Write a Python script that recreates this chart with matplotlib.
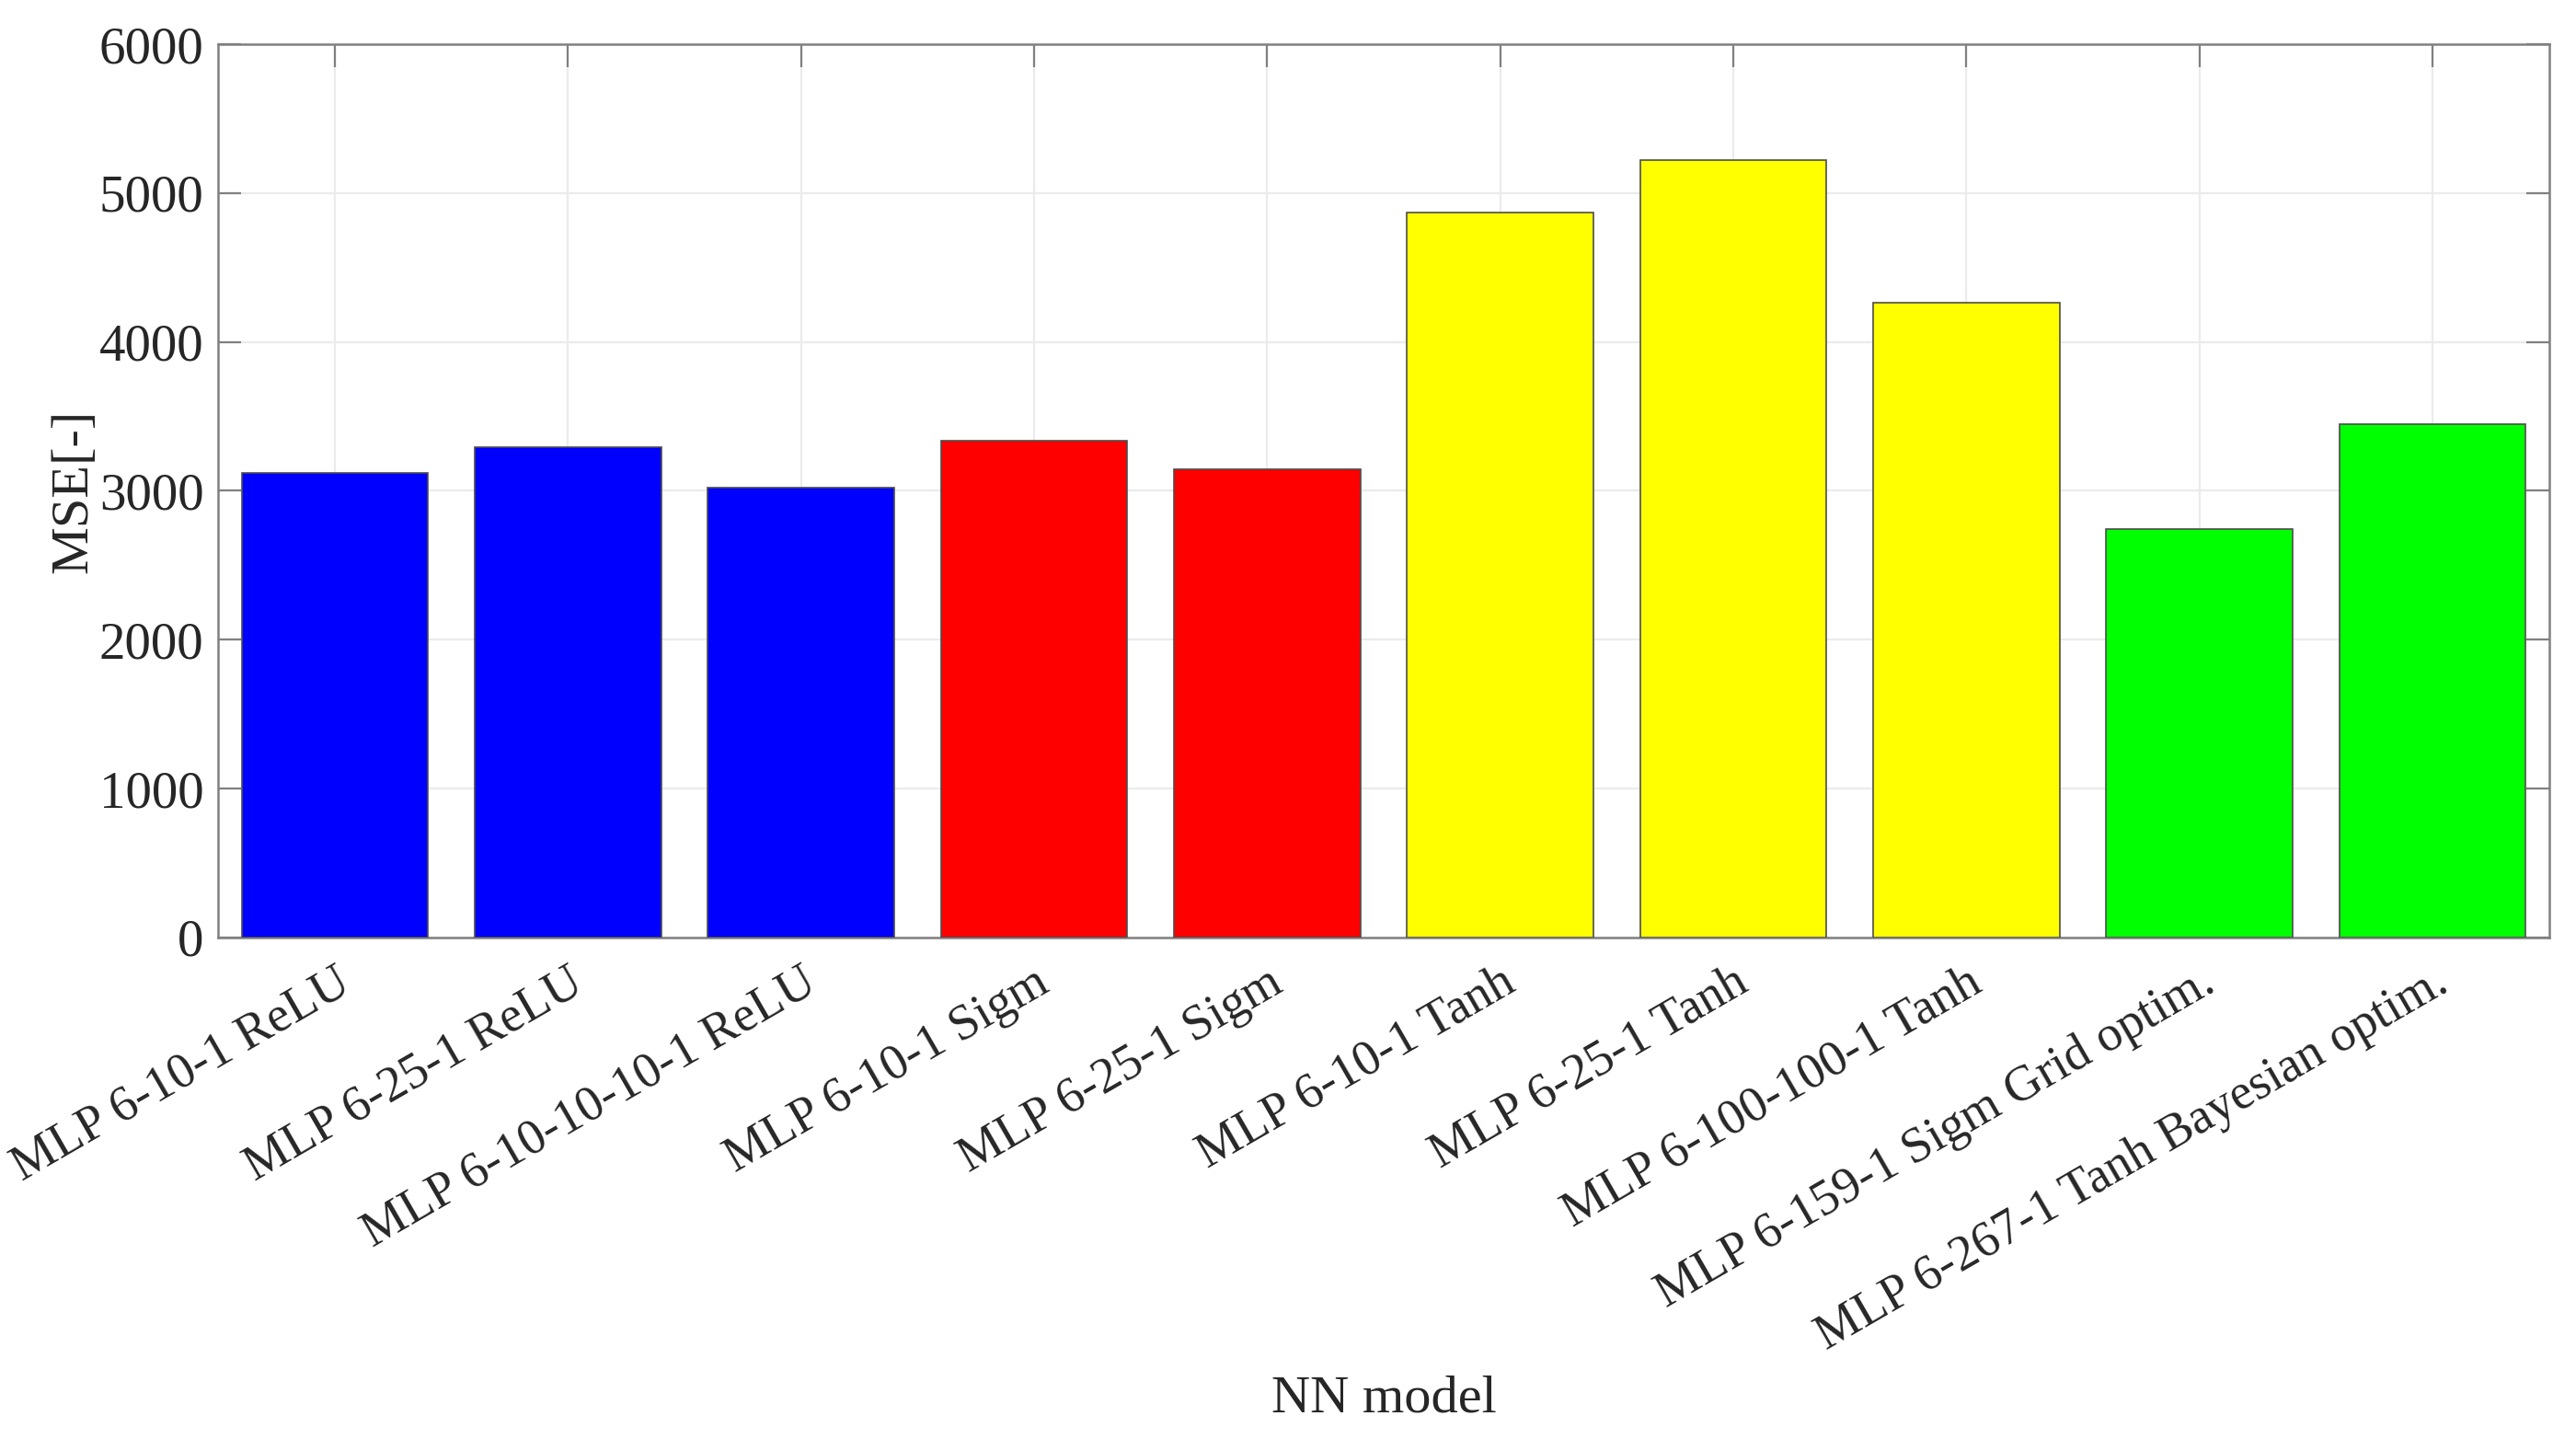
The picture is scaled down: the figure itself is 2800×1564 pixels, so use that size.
import matplotlib
matplotlib.use('Agg')
import matplotlib.pyplot as plt

# MSE of each network
models = ['MLP 6-10-1 ReLU', 'MLP 6-25-1 ReLU', 'MLP 6-10-10-10-1 ReLU',
          'MLP 6-10-1 Sigm', 'MLP 6-25-1 Sigm',
          'MLP 6-10-1 Tanh', 'MLP 6-25-1 Tanh', 'MLP 6-100-100-1 Tanh',
          'MLP 6-159-1 Sigm Grid optim.', 'MLP 6-267-1 Tanh Bayesian optim.']
mse = [3118, 3292, 3019, 3337, 3147, 4870, 5222, 4265, 2745, 3445]
colors = ['#0000ff', '#0000ff', '#0000ff', '#ff0000', '#ff0000',
          '#ffff00', '#ffff00', '#ffff00', '#00ff00', '#00ff00']
yticks = [0, 1000, 2000, 3000, 4000, 5000, 6000]

plt.rcParams['font.family'] = ['Liberation Serif', 'DejaVu Serif']

fig = plt.figure(figsize=(14, 7.82), dpi=200)
ax = fig.add_axes([0.0848, 0.3485, 0.9047, 0.6208])

x = list(range(1, len(models) + 1))
ax.bar(x, mse, width=0.8, color=colors, edgecolor='#4d4d4d', linewidth=0.6, zorder=3)

ax.set_xlim(0.5, len(models) + 0.5)
ax.set_ylim(0, 6000)
ax.set_yticks(yticks)
ax.set_xticks(x)
ax.set_xticklabels(models, rotation=30, ha='right', va='top',
                   rotation_mode='anchor', fontsize=19.6)

ax.grid(True, color='#ebebeb', linewidth=0.8, zorder=0)
ax.tick_params(direction='in', length=9, width=0.8, color='#808080',
               top=True, right=True, labelcolor='#262626', pad=5.8)
ax.tick_params(axis='y', labelsize=20.5)
ax.tick_params(axis='x', pad=8.5)
for s in ax.spines.values():
    s.set_color('#808080')
    s.set_linewidth(0.9)

ax.set_ylabel('MSE[-]', fontsize=21, color='#262626', va='center')
ax.yaxis.set_label_coords(-0.062, 0.5)
ax.set_xlabel('NN model', fontsize=21, color='#262626', va='center')
ax.xaxis.set_label_coords(0.5, -0.517)

fig.savefig('out.png', dpi=200)
